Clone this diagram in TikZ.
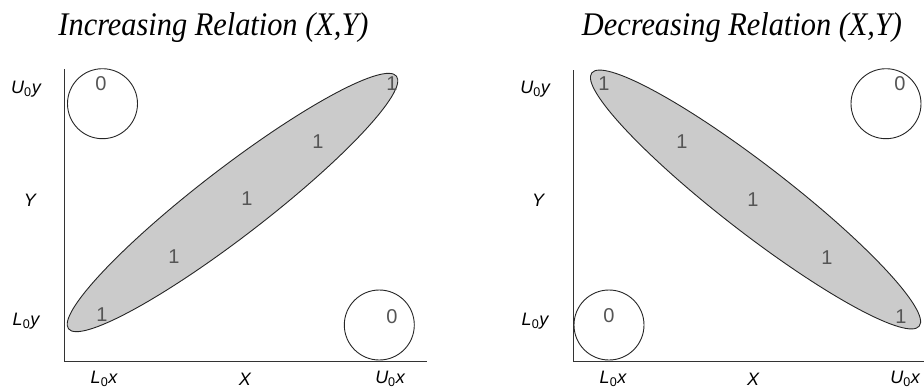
\documentclass[tikz,border=0pt]{standalone}
\usepackage{fontspec}
\setmainfont{Liberation Serif}
\setsansfont{Liberation Sans}
\usetikzlibrary{shapes.geometric}
\definecolor{shade}{HTML}{CBCBCB}
\definecolor{digit}{HTML}{555555}
\tikzset{
  axis/.style={draw=black!80, line width=1pt},
  blob/.style={ellipse, draw=black!85, line width=0.9pt, fill=shade, inner sep=0pt, minimum width=414pt, minimum height=68pt},
  zero/.style={circle, draw=black!85, line width=0.9pt, fill=white, inner sep=0pt, minimum size=70pt},
  num/.style={font=\sffamily\fontsize{20}{20}\selectfont, text=digit, inner sep=0pt},
  lab/.style={font=\sffamily\itshape\fontsize{18}{18}\selectfont, inner sep=0pt},
  ttl/.style={font=\itshape\fontsize{33}{33}\selectfont, inner sep=0pt, xscale=0.92, anchor=base}
}
\newcommand{\sub}[1]{\textsubscript{\upshape #1}}
\begin{document}
\begin{tikzpicture}[x=1pt,y=-1pt]
\useasboundingbox (0,0) rectangle (924,389);
% titles
\node[ttl] (t1) at (213.5,35) {Increasing Relation (X,Y)};
\node[ttl] (t2) at (742,35) {Decreasing Relation (X,Y)};
% left panel
\coordinate (ly0) at (64,69);
\coordinate (lo) at (64,361);
\coordinate (lx1) at (427,361);
\draw[axis] (ly0) -- (lo) -- (lx1);
\node[blob, rotate=37.6] (e1) at (232.5,202.5) {};
\node[zero] (c1) at (102.5,103.7) {};
\node[zero] (c2) at (379.3,325) {};
\node[num] (z1) at (101,84) {0};
\node[num] (z2) at (392,317) {0};
\node[num] (a1) at (102,315) {1};
\node[num] (a2) at (174,257) {1};
\node[num] (a3) at (247,199) {1};
\node[num] (a4) at (318,142) {1};
\node[num] (a5) at (392,84) {1};
\node[lab] (uy1) at (26,89) {U\sub{0}y};
\node[lab] (yy1) at (30,200) {Y};
\node[lab] (ly1) at (26,321) {L\sub{0}y};
\node[lab] (lx1l) at (104,379) {L\sub{0}x};
\node[lab] (xx1) at (245,379) {X};
\node[lab] (ux1) at (390,379) {U\sub{0}x};
% right panel
\coordinate (ry0) at (573,70);
\coordinate (ro) at (573,361);
\coordinate (rx1) at (924,361);
\draw[axis] (ry0) -- (ro) -- (rx1);
\node[blob, rotate=-37.7] (e2) at (755.5,199.5) {};
\node[zero] (c3) at (886,103.7) {};
\node[zero] (c4) at (609,325) {};
\node[num] (z3) at (900,84) {0};
\node[num] (z4) at (609,316) {0};
\node[num] (b1) at (604,84) {1};
\node[num] (b2) at (682,142) {1};
\node[num] (b3) at (753,200) {1};
\node[num] (b4) at (827,258) {1};
\node[num] (b5) at (901,317) {1};
\node[lab] (uy2) at (535,89) {U\sub{0}y};
\node[lab] (yy2) at (538,200) {Y};
\node[lab] (ly2) at (535,321) {L\sub{0}y};
\node[lab] (lx2) at (613,379) {L\sub{0}x};
\node[lab] (xx2) at (753,379) {X};
\node[lab] (ux2) at (905,379) {U\sub{0}x};
\end{tikzpicture}
\end{document}
